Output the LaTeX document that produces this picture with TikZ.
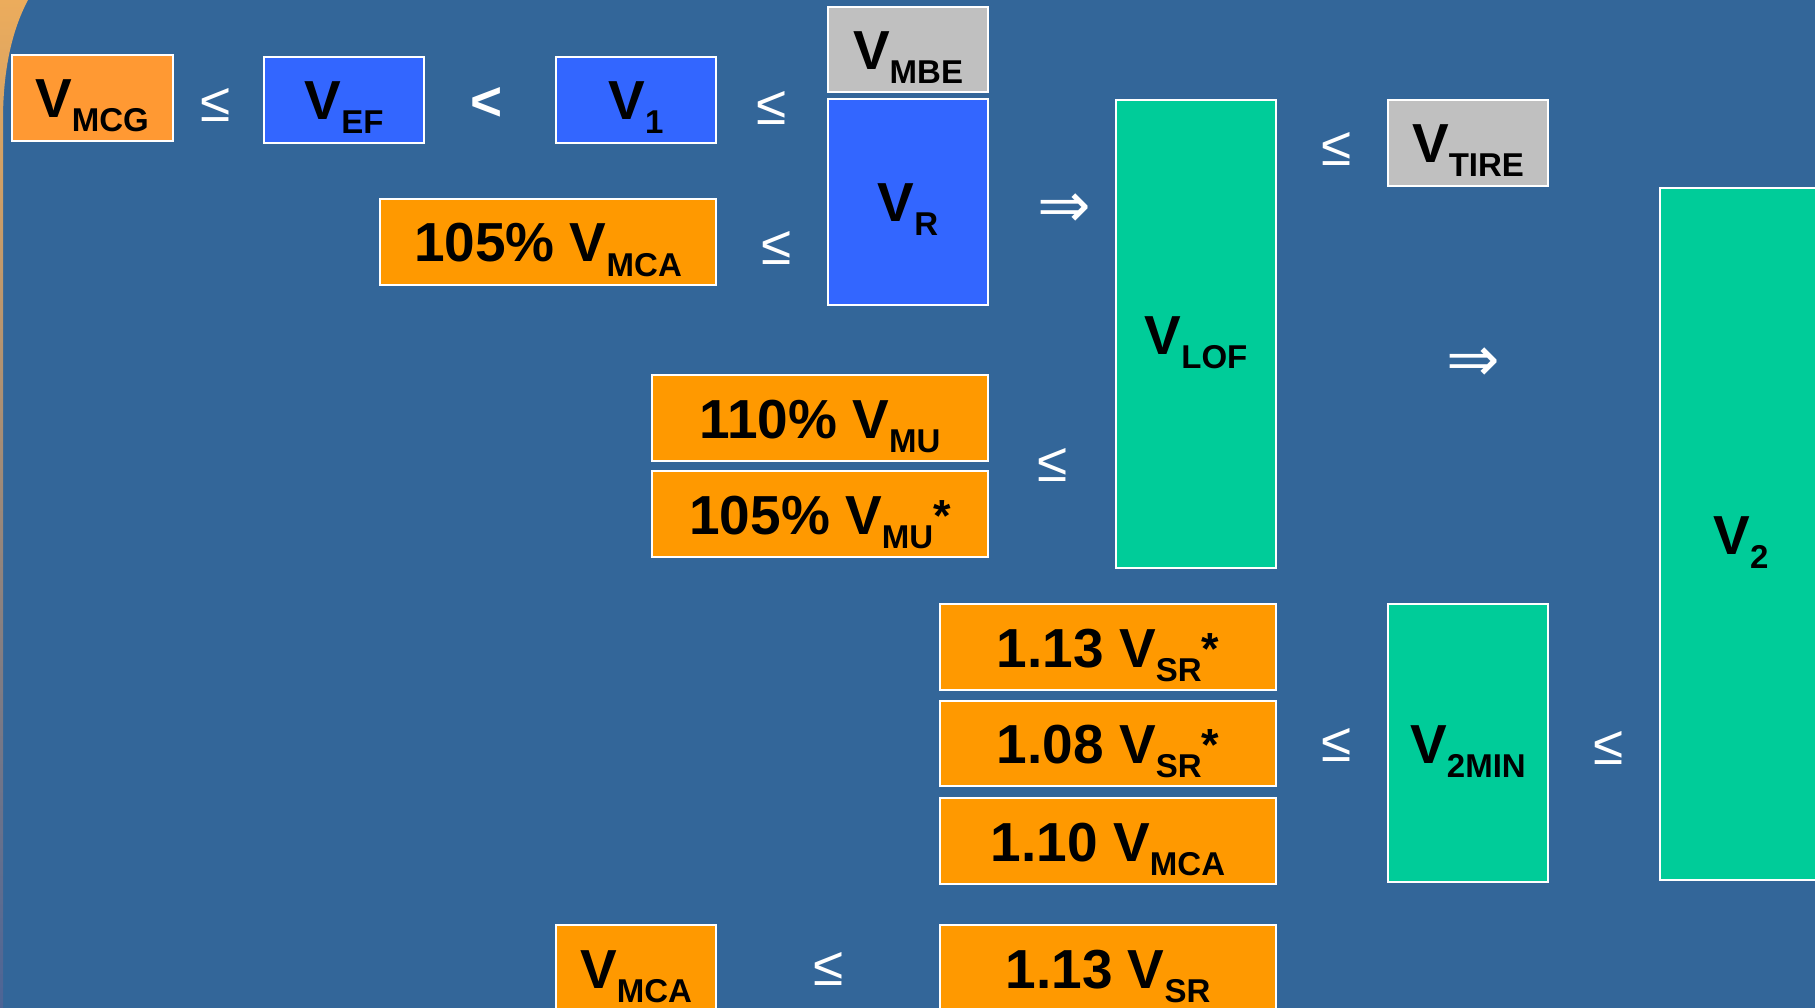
\documentclass[tikz,border=0pt]{standalone}
\usepackage{fontspec}
\setmainfont{Liberation Sans}
\newfontfamily\arrowfont{DejaVu Sans}
\definecolor{bgblue}{RGB}{51,102,153}
\definecolor{boxorange}{RGB}{255,153,0}
\definecolor{lightorange}{RGB}{255,153,51}
\definecolor{boxblue}{RGB}{51,102,255}
\definecolor{boxgray}{RGB}{192,192,192}
\definecolor{boxgreen}{RGB}{0,204,153}
\definecolor{edgetop}{RGB}{236,172,92}
\definecolor{edgemid}{RGB}{175,130,125}
\definecolor{edgebot}{RGB}{75,100,150}
\newcommand\mysub[1]{\raisebox{-14pt}{\fontsize{33}{36}\selectfont #1}}
\newcommand\myast{\raisebox{3pt}{\fontsize{45}{50}\selectfont *}}
\tikzset{
  bx/.style={draw=white, line width=2pt, inner sep=0pt, text=black,
    text height=40pt, text depth=0pt, align=center,
    font=\bfseries\fontsize{55}{60}\selectfont},
  orangebox/.style={bx, fill=boxorange},
  bluebox/.style={bx, fill=boxblue},
  graybox/.style={bx, fill=boxgray},
  greenbox/.style={bx, fill=boxgreen},
  rel/.style={text=white, inner sep=0pt, font=\fontsize{55}{60}\selectfont},
  impl/.style={text=white, inner sep=0pt, font=\arrowfont\fontsize{64}{70}\selectfont},
}
\begin{document}
\begin{tikzpicture}[x=1pt,y=-1pt]
\useasboundingbox (0,0) rectangle (1815,1008);
\clip (0,0) rectangle (1815,1008);
\fill[bgblue] (0,0) rectangle (1815,1008);
\shade[top color=edgetop, middle color=edgemid, bottom color=edgebot]
  (0,0) -- (28,0) .. controls (12,30) and (3,70) .. (3,120) -- (3,1008) -- (0,1008) -- cycle;

% row 1
\node[bx, fill=lightorange, minimum width=161pt, minimum height=86pt] (mcg) at (92,98) {V\mysub{MCG}};
\node[rel] (r1) at (216,104.5) {≤};
\node[bluebox, minimum width=160pt, minimum height=86pt] (ef) at (344,100) {V\mysub{EF}};
\node[rel, font=\bfseries\fontsize{55}{60}\selectfont] (r2) at (487,104) {<};
\node[bluebox, minimum width=160pt, minimum height=86pt] (v1) at (636,100) {V\mysub{1}};
\node[rel] (r3) at (772,107.5) {≤};
\node[graybox, minimum width=160pt, minimum height=85pt] (mbe) at (908,49.5) {V\mysub{MBE}};
\node[bluebox, minimum width=160pt, minimum height=206pt] (vr) at (908,202) {V\mysub{R}};
\node[orangebox, minimum width=336pt, minimum height=86pt] (mca105) at (548,242) {105\% V\mysub{MCA}};
\node[rel] (r4) at (776.5,248) {≤};
\node[impl] (i1) at (1064,211) {⇒};

% lift-off column
\node[greenbox, minimum width=160pt, minimum height=468pt] (lof) at (1196,334) {V\mysub{LOF}};
\node[rel] (r5) at (1337,148.5) {≤};
\node[graybox, minimum width=160pt, minimum height=86pt] (tire) at (1468,143) {V\mysub{TIRE}};
\node[impl] (i2) at (1473,365) {⇒};
\node[greenbox, minimum width=162pt, minimum height=692pt] (v2) at (1741,534) {V\mysub{2}};

% minimum unstick
\node[orangebox, minimum width=336pt, minimum height=86pt] (mu110) at (820,418) {110\% V\mysub{MU}};
\node[orangebox, minimum width=336pt, minimum height=86pt] (mu105) at (820,514) {105\% V\mysub{MU}\myast};
\node[rel] (r6) at (1052.5,464.5) {≤};

% V2MIN
\node[orangebox, minimum width=336pt, minimum height=86pt] (sr113s) at (1108,647) {1.13 V\mysub{SR}\myast};
\node[orangebox, minimum width=336pt, minimum height=85pt] (sr108s) at (1108,743.5) {1.08 V\mysub{SR}\myast};
\node[orangebox, minimum width=336pt, minimum height=86pt] (mca110) at (1108,841) {1.10 V\mysub{MCA}};
\node[rel] (r7) at (1336.5,744.5) {≤};
\node[greenbox, minimum width=160pt, minimum height=278pt] (v2min) at (1468,743) {V\mysub{2MIN}};
\node[rel] (r8) at (1609,748) {≤};

% bottom row
\node[orangebox, minimum width=160pt, minimum height=86pt] (mca) at (636,968) {V\mysub{MCA}};
\node[rel] (r9) at (828.5,969) {≤};
\node[orangebox, minimum width=336pt, minimum height=86pt] (sr113) at (1108,968) {1.13 V\mysub{SR}};
\end{tikzpicture}
\end{document}
